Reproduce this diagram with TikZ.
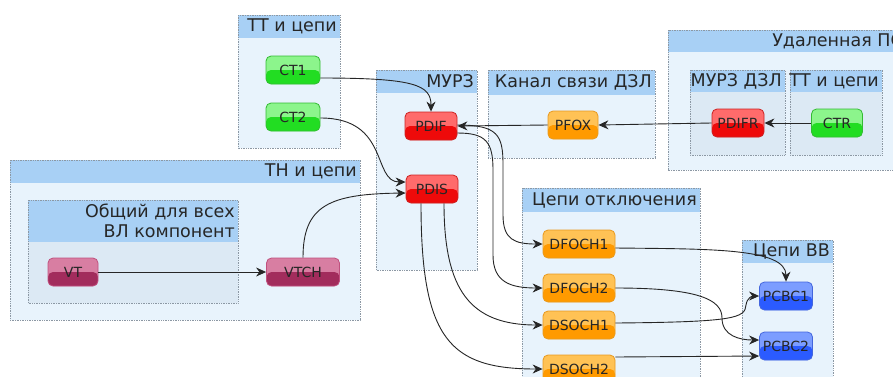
\documentclass[tikz,border=0pt]{standalone}
\usepackage{fontspec}
\setmainfont{DejaVu Sans}
\usetikzlibrary{arrows.meta}

% panel colours
\definecolor{hdr}{HTML}{A8D0F5}
\definecolor{body}{HTML}{E8F3FC}
\definecolor{ibody}{HTML}{DCE9F4}
\definecolor{frame}{HTML}{8C98A4}
% element colours: light upper half, saturated lower half, border
\definecolor{grntop}{HTML}{8CF58C}\definecolor{grnbot}{HTML}{22DD22}\definecolor{grnline}{HTML}{33BB33}
\definecolor{redtop}{HTML}{FF6B6B}\definecolor{redbot}{HTML}{EE0A0A}\definecolor{redline}{HTML}{CC2222}
\definecolor{orgtop}{HTML}{FFC255}\definecolor{orgbot}{HTML}{FF9A00}\definecolor{orgline}{HTML}{E89A20}
\definecolor{blutop}{HTML}{7C9DFF}\definecolor{blubot}{HTML}{2B5BFF}\definecolor{bluline}{HTML}{4466DD}
\definecolor{martop}{HTML}{D87EA2}\definecolor{marbot}{HTML}{A22C5C}\definecolor{marline}{HTML}{C0507E}

% panel: x1, y1, x2, y2, header bottom, body fill, title
\newcommand\drawpanel[7]{%
  \fill[#6] (#1,#2) rectangle (#3,#4);
  \fill[hdr] (#1,#2) rectangle (#3,#5);
  \draw[frame, densely dotted, line width=0.7pt] (#1,#2) rectangle (#3,#4);
  \node[hdrtext, anchor=east] at ({#3-3},{(#2+#5)/2}) {#7};}

\tikzset{
  hdrtext/.style={font=\fontsize{17.5}{20}\selectfont, text=black!85, inner sep=0pt, align=right},
  elem/.style={rounded corners=5pt, minimum height=28pt, inner sep=1pt,
    font=\fontsize{14}{16}\selectfont, text=black!85, line width=0.8pt,
    draw=#1line, fill=#1top,
    path picture={\fill[#1bot] (path picture bounding box.west) rectangle (path picture bounding box.south east);}},
  link/.style={draw=black!85, line width=0.9pt, -{Stealth[length=10pt,width=9pt]}},
}

\begin{document}
\begin{tikzpicture}[x=1pt, y=-1pt]
\clip (0,0) rectangle (893,376);
\fill[white] (0,0) rectangle (893,376);

% groups
\drawpanel{238}{15}{340}{148}{38}{body}{ТТ и цепи}
\drawpanel{376}{70}{477}{270}{93}{body}{МУРЗ}
\drawpanel{488}{70}{655}{158}{95}{body}{Канал связи ДЗЛ}
\drawpanel{668}{30}{906}{170}{52}{body}{Удаленная ПС}
\drawpanel{690}{70}{785}{155}{92}{ibody}{МУРЗ ДЗЛ}
\drawpanel{790}{70}{882}{155}{92}{ibody}{ТТ и цепи}
\drawpanel{10}{160}{360}{320}{183}{body}{ТН и цепи}
\drawpanel{28}{200}{238}{303}{242}{ibody}{Общий для всех\\ВЛ компонент}
\drawpanel{522}{188}{700}{400}{212}{body}{Цепи отключения}
\drawpanel{742}{240}{833}{400}{263}{body}{Цепи ВВ}

% elements
\node[elem=grn, minimum width=54pt] (CT1) at (293,70) {CT1};
\node[elem=grn, minimum width=54pt] (CT2) at (293,117) {CT2};
\node[elem=red, minimum width=52pt] (PDIF) at (431,126) {PDIF};
\node[elem=red, minimum width=52pt] (PDIS) at (432,189) {PDIS};
\node[elem=org, minimum width=50pt] (PFOX) at (573,125) {PFOX};
\node[elem=red, minimum width=52pt] (PDIFR) at (738,123) {PDIFR};
\node[elem=grn, minimum width=51pt] (CTR) at (837,123) {CTR};
\node[elem=mar, minimum width=50pt] (VT) at (73,272) {VT};
\node[elem=mar, minimum width=73pt] (VTCH) at (303,272) {VTCH};
\node[elem=org, minimum width=72pt] (DFOCH1) at (579,244) {DFOCH1};
\node[elem=org, minimum width=72pt] (DFOCH2) at (579,288) {DFOCH2};
\node[elem=org, minimum width=72pt] (DSOCH1) at (579,325) {DSOCH1};
\node[elem=org, minimum width=72pt] (DSOCH2) at (579,369) {DSOCH2};
\node[elem=blu, minimum width=53pt] (PCBC1) at (786,296) {PCBC1};
\node[elem=blu, minimum width=53pt] (PCBC2) at (786,346) {PCBC2};

% connections
\draw[link] ([yshift=-8pt]CT1.east) .. controls (415,78) and (431,85) .. (PDIF.north);
\draw[link] ([yshift=-1pt]CT2.east) .. controls (390,118) and (372,182) .. ([yshift=7pt]PDIS.west);
\draw[link] (VTCH.north) .. controls (303,205) and (330,194) .. ([yshift=-4pt]PDIS.west);
\draw[link] (VT.east) -- (VTCH.west);
\draw[link] (PFOX.west) -- (PDIF.east);
\draw[link] (PDIFR.west) -- (PFOX.east);
\draw[link] (CTR.west) -- (PDIFR.west -| PDIFR.east);
\draw[link] ([yshift=1pt]PDIF.east) .. controls (498,125) and (503,135) .. (503,165)
  -- (503,215) .. controls (503,240) and (515,244) .. (DFOCH1.west);
\draw[link] ([yshift=-7pt]PDIF.east) .. controls (486,133) and (493,142) .. (493,170)
  -- (493,255) .. controls (493,282) and (510,288) .. (DFOCH2.west);
\draw[link] ([xshift=12pt]PDIS.south) .. controls (444,290) and (470,325) .. (DSOCH1.west);
\draw[link] ([xshift=-11pt]PDIS.south) .. controls (421,340) and (450,369) .. (DSOCH2.west);
\draw[link] ([yshift=-4pt]DFOCH1.east) .. controls (710,249) and (786,248) .. (PCBC1.north);
\draw[link] (DFOCH2.east) .. controls (700,288) and (722,300) .. (722,318)
  .. controls (722,336) and (740,340) .. ([yshift=6pt]PCBC2.west);
\draw[link] ([yshift=2pt]DSOCH1.east) .. controls (735,322) and (745,318) .. (746,305)
  .. controls (747,298) and (752,296) .. (PCBC1.west);
\draw[link] ([yshift=12pt]DSOCH2.east) -- ([yshift=-10pt]PCBC2.west);
\end{tikzpicture}
\end{document}
